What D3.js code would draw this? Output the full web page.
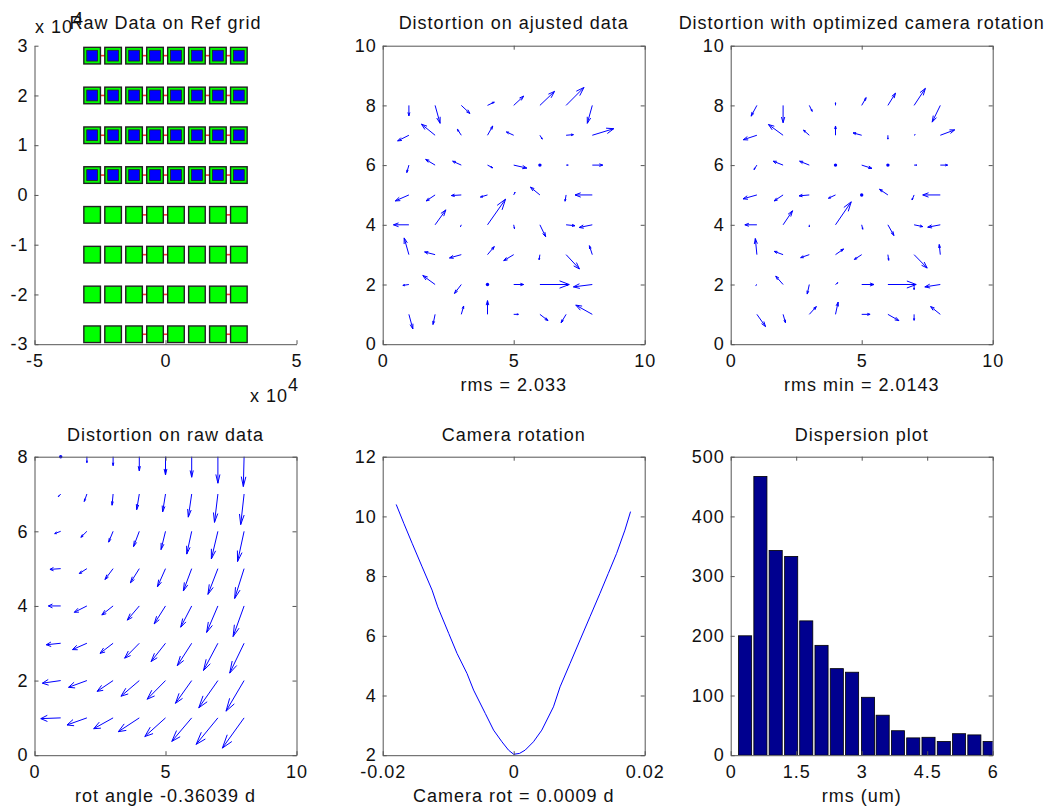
<!DOCTYPE html>
<html>
<head>
<meta charset="utf-8">
<script src="https://cdn.jsdelivr.net/npm/d3@7"></script>
<style>
body { margin: 0; background: #fff; }
text { font-family: "Liberation Sans", Arial, sans-serif; fill: #111; }
</style>
</head>
<body>
<script>
//figure size and subplot layout (2 rows x 3 cols)
const width = 1055;
const height = 810;
const colLeft = [34.5, 382.7, 730.7];
const rowTop = [45.7, 456.7];
const axW = 262;
const axH = 298.5;
const fontSize = 18;
const letterSp = 1;

//quiver grid
const gridX = [1, 2, 3, 4, 5, 6, 7, 8];
const gridY = [8, 7, 6, 5, 4, 3, 2, 1];

//distortion on ajusted data (u, v per row, top row y=8 first)
const adjU = [
    [0, 0.19, 0.33, 0.26, 0.38, 0.56, 0.68, -0.19],
    [-0.43, -0.52, -0.15, 0.20, -0.28, 0.09, 0.28, 0.82],
    [-0.08, -0.36, -0.33, 0.20, 0.50, 0, 0.08, 0.40],
    [-0.52, -0.34, -0.38, -0.27, 0.05, -0.36, -0.04, -0.66],
    [-0.59, 0.41, -0.03, 0.69, 0.03, 0.22, 0.34, -0.50],
    [-0.18, -0.40, -0.45, 0.26, -0.38, -0.03, 0.51, -0.11],
    [-0.23, -0.47, -0.26, 0, 0.38, 1.12, 0.06, -0.72],
    [0.15, -0.08, 0.09, 0, 0.18, 0.31, -0.19, -0.63]
];
const adjV = [
    [-0.35, -0.60, -0.27, 0.11, 0.31, 0.47, 0.60, -0.60],
    [-0.19, 0.37, 0.20, 0.31, 0.11, -0.13, 0.02, 0.22],
    [-0.25, 0.19, 0.13, -0.09, -0.10, 0, 0, 0],
    [-0.20, -0.20, -0.02, -0.07, 0.09, 0.26, -0.21, 0],
    [0, 0.50, -0.06, 0.86, -0.13, -0.40, -0.03, -0.09],
    [0.56, 0.09, -0.11, 0.27, -0.20, -0.17, -0.48, 0.30],
    [-0.03, 0.30, -0.30, 0, 0, 0, -0.03, -0.08],
    [-0.49, -0.34, 0.28, 0.46, 0, -0.21, -0.28, 0.31]
];

//distortion with optimized camera rotation
const optU = [
    [-0.22, 0, 0.11, 0, 0.17, 0.29, 0.43, -0.31],
    [-0.52, -0.56, -0.22, 0, -0.33, 0, 0.04, 0.55],
    [-0.11, -0.38, -0.37, 0, 0.39, 0, 0.10, 0.28],
    [-0.53, -0.34, -0.39, -0.27, 0, -0.32, -0.08, -0.67],
    [-0.46, 0.36, 0, 0.60, 0.04, 0.23, 0.33, -0.48],
    [-0.06, -0.34, -0.33, 0.31, -0.28, 0.03, 0.50, -0.04],
    [-0.04, -0.28, -0.08, 0.09, 0.47, 1.08, 0, -0.59],
    [0.33, 0.09, 0.27, 0.10, 0.32, 0.42, 0, -0.37]
];
const optV = [
    [-0.36, -0.58, -0.20, 0.09, 0.26, 0.41, 0.57, -0.56],
    [-0.15, 0.36, 0.17, 0.31, 0.08, -0.13, 0.02, 0.18],
    [-0.15, 0.13, 0.13, 0, -0.11, 0, 0, 0],
    [-0.13, -0.20, -0.03, -0.11, 0, 0.19, -0.17, 0],
    [0, 0.47, -0.07, 0.77, -0.15, -0.36, -0.06, -0.08],
    [0.54, 0.11, -0.10, 0.19, -0.16, -0.19, -0.45, 0.34],
    [-0.03, 0.28, -0.32, 0.06, 0, 0, -0.17, -0.08],
    [-0.41, -0.28, 0.26, 0.41, 0, -0.21, -0.20, 0.26]
];

//distortion on raw data
const rawU = [
    [0, 0, 0, 0, 0, 0, 0, -0.03],
    [-0.09, -0.10, -0.04, -0.10, -0.11, -0.13, -0.13, -0.13],
    [-0.23, -0.23, -0.17, -0.22, -0.17, -0.19, -0.25, -0.25],
    [-0.41, -0.29, -0.31, -0.34, -0.31, -0.32, -0.38, -0.36],
    [-0.47, -0.48, -0.43, -0.46, -0.43, -0.42, -0.43, -0.42],
    [-0.55, -0.55, -0.50, -0.56, -0.55, -0.55, -0.55, -0.55],
    [-0.70, -0.70, -0.61, -0.70, -0.70, -0.62, -0.73, -0.69],
    [-0.76, -0.76, -0.74, -0.80, -0.79, -0.76, -0.83, -0.83]
];
const rawV = [
    [0, -0.16, -0.24, -0.38, -0.49, -0.55, -0.71, -0.80],
    [-0.07, -0.20, -0.30, -0.42, -0.48, -0.62, -0.76, -0.82],
    [-0.06, -0.16, -0.29, -0.41, -0.49, -0.61, -0.74, -0.81],
    [-0.02, -0.13, -0.29, -0.38, -0.49, -0.60, -0.69, -0.80],
    [0, -0.17, -0.24, -0.38, -0.48, -0.57, -0.71, -0.82],
    [-0.04, -0.17, -0.27, -0.40, -0.49, -0.60, -0.73, -0.80],
    [-0.07, -0.18, -0.29, -0.42, -0.50, -0.61, -0.73, -0.82],
    [-0.02, -0.19, -0.29, -0.37, -0.50, -0.63, -0.71, -0.81]
];

//raw data on ref grid (x 10^4)
const refCols = [-2.8, -2.0, -1.2, -0.4, 0.4, 1.2, 2.0, 2.8];
const refRows = [2.8, 2.0, 1.2, 0.4, -0.4, -1.2, -2.0, -2.8];
const blueRows = [2.8, 2.0, 1.2, 0.4];
//gaps (between col i and i+1) where the red trace shows
const redGaps = [
    [0, 2, 3, 5, 6], [0, 2, 3, 5, 6], [0, 2, 3, 5, 6], [0, 2, 3, 5, 6],
    [2, 3, 6], [2, 3, 6], [2, 3, 6], [2, 3, 6]
];

//camera rotation curve
const rotX = [-0.01794, -0.01678, -0.01551, -0.01398, -0.01246, -0.0116, -0.00992, -0.00865, -0.00713, -0.00612,
    -0.00434, -0.00307, -0.0018, -0.00079, 0.0, 0.00089, 0.00175, 0.00302, 0.00429, 0.00607, 0.00708, 0.0086,
    0.01013, 0.01165, 0.01317, 0.01444, 0.01571, 0.01698, 0.01784];
const rotY = [10.40, 9.77, 9.10, 8.31, 7.53, 6.97, 6.08, 5.41, 4.74, 4.18,
    3.40, 2.84, 2.45, 2.17, 2.03, 2.06, 2.17, 2.45, 2.84, 3.62, 4.29, 5.07,
    5.86, 6.64, 7.42, 8.09, 8.76, 9.54, 10.16];

//dispersion histogram
const binCenters = [0.33, 0.68, 1.03, 1.385, 1.73, 2.08, 2.43, 2.78, 3.145, 3.48, 3.83, 4.18, 4.53, 4.88, 5.23, 5.58, 5.93];
const binCounts = [200, 467, 343, 333, 225, 184, 145, 139, 97, 67, 41, 29, 30, 23, 36, 34, 23];
const binWidth = 0.30;

const svg = d3.select("body").append("svg")
    .attr("width", width)
    .attr("height", height);

function fmt(d) { return String(d); }

//one subplot: scales, box, ticks, title, xlabel
function makeAxes(col, row, xd, yd, xt, yt, opts) {
    const x0 = colLeft[col];
    const y0 = rowTop[row];
    const x = d3.scaleLinear().domain(xd).range([x0, x0 + axW]);
    const y = d3.scaleLinear().domain(yd).range([y0 + axH, y0]);
    const g = svg.append("g");

    //plot layer first so the axis lines sit on top of it
    const plot = g.append("g");
    if (opts.clip) {
        const id = "clip" + col + row;
        svg.append("clipPath").attr("id", id)
            .append("rect").attr("x", x0).attr("y", y0).attr("width", axW).attr("height", axH);
        plot.attr("clip-path", "url(#" + id + ")");
    }

    g.append("g")
        .attr("transform", "translate(0," + (y0 + axH) + ")")
        .call(d3.axisBottom(x).tickValues(xt).tickFormat(fmt).tickSizeInner(-4).tickSizeOuter(0).tickPadding(10));
    g.append("g")
        .attr("transform", "translate(" + x0 + ",0)")
        .call(d3.axisLeft(y).tickValues(yt).tickFormat(fmt).tickSizeInner(-4).tickSizeOuter(0).tickPadding(6));

    if (opts.box) {
        g.append("g")
            .attr("transform", "translate(0," + y0 + ")")
            .call(d3.axisTop(x).tickValues(xt).tickFormat("").tickSizeInner(-4).tickSizeOuter(0));
        g.append("g")
            .attr("transform", "translate(" + (x0 + axW) + ",0)")
            .call(d3.axisRight(y).tickValues(yt).tickFormat("").tickSizeInner(-4).tickSizeOuter(0));
    }
    g.selectAll(".domain, .tick line").attr("stroke", "#555");
    g.selectAll(".tick text")
        .style("font-size", fontSize + "px")
        .style("letter-spacing", letterSp + "px")
        .attr("fill", "#111");

    g.append("text")
        .attr("x", x0 + axW / 2)
        .attr("y", row === 0 ? 28.5 : 440.5)
        .attr("text-anchor", "middle")
        .style("font-size", fontSize + "px")
        .style("letter-spacing", letterSp + "px")
        .text(opts.title);

    if (opts.xlabel) {
        g.append("text")
            .attr("x", x0 + axW / 2)
            .attr("y", row === 0 ? 391 : 802)
            .attr("text-anchor", "middle")
            .style("font-size", fontSize + "px")
            .style("letter-spacing", letterSp + "px")
            .text(opts.xlabel);
    }
    return { g: plot, x: x, y: y };
}

//matlab style quiver: shaft plus two head strokes
function quiver(ax, U, V) {
    const alpha = 0.33;
    const beta = 0.33;
    gridY.forEach(function (gy, r) {
        gridX.forEach(function (gx, c) {
            const u = U[r][c];
            const v = V[r][c];
            if (u === 0 && v === 0) {
                ax.g.append("circle")
                    .attr("cx", ax.x(gx))
                    .attr("cy", ax.y(gy))
                    .attr("r", 1.7)
                    .attr("fill", "#0000ff");
                return;
            }
            const tx = gx + u;
            const ty = gy + v;
            const h1 = [tx - alpha * (u + beta * v), ty - alpha * (v - beta * u)];
            const h2 = [tx - alpha * (u - beta * v), ty - alpha * (v + beta * u)];
            const p = d3.path();
            p.moveTo(ax.x(gx), ax.y(gy));
            p.lineTo(ax.x(tx), ax.y(ty));
            p.moveTo(ax.x(h1[0]), ax.y(h1[1]));
            p.lineTo(ax.x(tx), ax.y(ty));
            p.lineTo(ax.x(h2[0]), ax.y(h2[1]));
            ax.g.append("path")
                .attr("d", p.toString())
                .attr("fill", "none")
                .attr("stroke", "#0000ff")
                .attr("stroke-width", 1);
        });
    });
}

//raw data on ref grid
const ax1 = makeAxes(0, 0, [-5, 5], [-3, 3], [-5, 0, 5], [-3, -2, -1, 0, 1, 2, 3],
    { title: "Raw Data on Ref grid", box: false });

refRows.forEach(function (ry, r) {
    redGaps[r].forEach(function (i) {
        ax1.g.append("line")
            .attr("x1", ax1.x(refCols[i]))
            .attr("x2", ax1.x(refCols[i + 1]))
            .attr("y1", ax1.y(ry))
            .attr("y2", ax1.y(ry))
            .attr("stroke", "#ff3030")
            .attr("stroke-width", 1.6);
    });
});
refRows.forEach(function (ry) {
    refCols.forEach(function (rx) {
        ax1.g.append("rect")
            .attr("x", ax1.x(rx) - 8.3)
            .attr("y", ax1.y(ry) - 8.3)
            .attr("width", 16.6)
            .attr("height", 16.6)
            .attr("fill", "#00ff00")
            .attr("stroke", "#222")
            .attr("stroke-width", 1.4);
    });
});
blueRows.forEach(function (ry) {
    refCols.forEach(function (rx) {
        ax1.g.append("rect")
            .attr("x", ax1.x(rx) - 5.4)
            .attr("y", ax1.y(ry) - 5.4)
            .attr("width", 10.8)
            .attr("height", 10.8)
            .attr("fill", "#0000ff")
            .attr("stroke", "#222")
            .attr("stroke-width", 0.8);
    });
});

//exponent labels
function expLabel(xp, yp, raise) {
    const t = svg.append("text")
        .attr("x", xp)
        .attr("y", yp)
        .style("font-size", fontSize + "px")
        .style("letter-spacing", letterSp + "px");
    t.append("tspan").text("x 10");
    t.append("tspan").attr("dy", -raise).text("4");
}
expLabel(35, 33, 8);
expLabel(250, 402, 11);

//ajusted and optimized distortion
const ax2 = makeAxes(1, 0, [0, 10], [0, 10], [0, 5, 10], [0, 2, 4, 6, 8, 10],
    { title: "Distortion on ajusted data", xlabel: "rms = 2.033", box: true });
quiver(ax2, adjU, adjV);

const ax3 = makeAxes(2, 0, [0, 10], [0, 10], [0, 5, 10], [0, 2, 4, 6, 8, 10],
    { title: "Distortion with optimized camera rotation", xlabel: "rms min = 2.0143", box: true });
quiver(ax3, optU, optV);

//raw distortion
const ax4 = makeAxes(0, 1, [0, 10], [0, 8], [0, 5, 10], [0, 2, 4, 6, 8],
    { title: "Distortion on raw data", xlabel: "rot angle -0.36039 d", box: true });
quiver(ax4, rawU, rawV);

//camera rotation curve
const ax5 = makeAxes(1, 1, [-0.02, 0.02], [2, 12], [-0.02, 0, 0.02], [2, 4, 6, 8, 10, 12],
    { title: "Camera rotation", xlabel: "Camera rot = 0.0009 d", box: true });
const rotLine = d3.line()
    .x(function (d, i) { return ax5.x(rotX[i]); })
    .y(function (d, i) { return ax5.y(rotY[i]); });
ax5.g.append("path")
    .attr("d", rotLine(rotX))
    .attr("fill", "none")
    .attr("stroke", "#0000ff")
    .attr("stroke-width", 1);

//dispersion histogram
const ax6 = makeAxes(2, 1, [0, 6], [0, 500], [0, 1.5, 3, 4.5, 6], [0, 100, 200, 300, 400, 500],
    { title: "Dispersion plot", xlabel: "rms (um)", box: true, clip: true });
ax6.g.selectAll("rect")
    .data(binCounts)
    .enter()
    .append("rect")
    .attr("x", function (d, i) { return ax6.x(binCenters[i] - binWidth / 2); })
    .attr("width", function (d, i) { return ax6.x(binCenters[i] + binWidth / 2) - ax6.x(binCenters[i] - binWidth / 2); })
    .attr("y", function (d) { return ax6.y(d); })
    .attr("height", function (d) { return ax6.y(0) - ax6.y(d); })
    .attr("fill", "#00008f")
    .attr("stroke", "#000")
    .attr("stroke-width", 0.8);
</script>
</body>
</html>
